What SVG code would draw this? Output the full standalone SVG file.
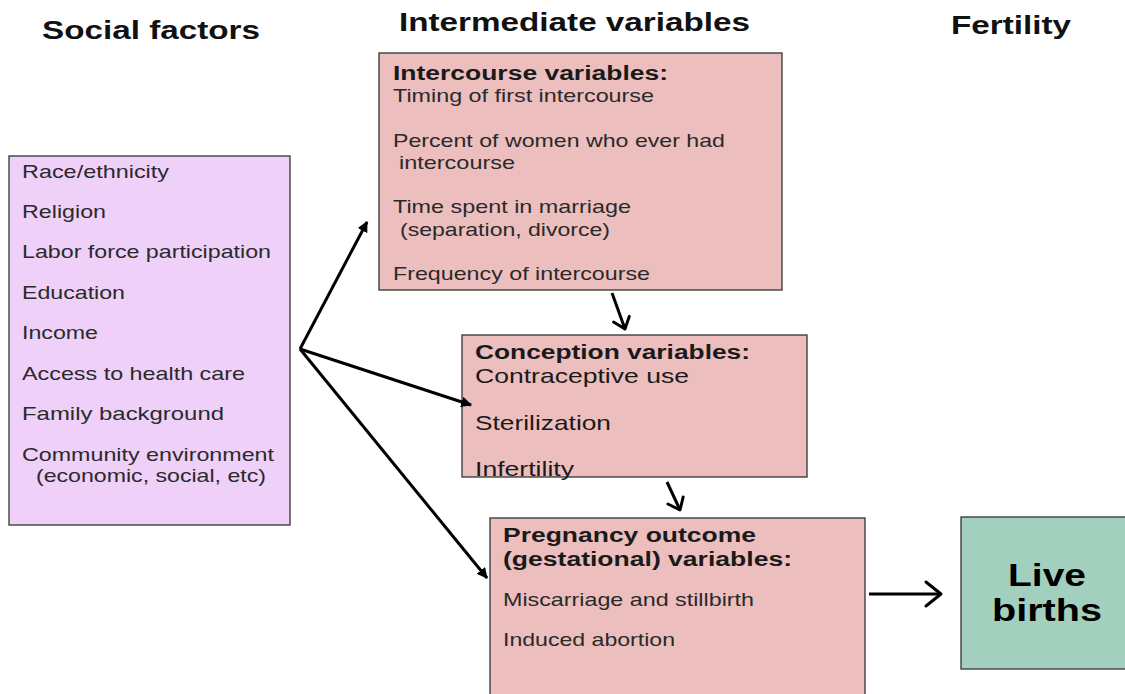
<svg xmlns="http://www.w3.org/2000/svg" width="1125" height="694" viewBox="0 0 1125 694">
<style>
.hdr{font-family:"Liberation Sans",Arial,sans-serif;font-weight:bold;font-size:26px;fill:#111}
.box{stroke:#333;stroke-width:1.3}
.t{font-family:"Liberation Sans",Arial,sans-serif;font-size:18.5px;fill:#2a2a2a}
.tb{font-family:"Liberation Sans",Arial,sans-serif;font-size:19.5px;font-weight:bold;fill:#1a1a1a}
.tl{font-family:"Liberation Sans",Arial,sans-serif;font-size:21px;fill:#1a1a1a}
.lb{font-family:"Liberation Sans",Arial,sans-serif;font-size:32px;font-weight:bold;fill:#000}
.conn{stroke:#000;stroke-width:3;fill:none}
</style>
<defs>
<marker id="tri" viewBox="0 0 10 10" refX="9" refY="5" markerWidth="3.6" markerHeight="3.6" orient="auto" markerUnits="strokeWidth">
<path d="M0,0 L10,5 L0,10 z" fill="#000"/>
</marker>
<marker id="vee" viewBox="0 0 10 10" refX="9" refY="5" markerWidth="10" markerHeight="10" orient="auto" markerUnits="strokeWidth">
<path d="M4,1 L9,5 L4,9" fill="none" stroke="#000" stroke-width="1" stroke-linecap="round" stroke-linejoin="round"/>
</marker>
<marker id="veeS" viewBox="0 0 10 10" refX="9" refY="5" markerWidth="7" markerHeight="7" orient="auto" markerUnits="strokeWidth">
<path d="M4,1 L9,5 L4,9" fill="none" stroke="#000" stroke-width="1.4" stroke-linecap="round" stroke-linejoin="round"/>
</marker>
</defs>
<rect width="1125" height="694" fill="#fff"/>
<g id="headers">
<text class="hdr" x="42" y="39" textLength="218" lengthAdjust="spacingAndGlyphs">Social factors</text>
<text class="hdr" x="399" y="31" textLength="351" lengthAdjust="spacingAndGlyphs">Intermediate variables</text>
<text class="hdr" x="951" y="34" textLength="120" lengthAdjust="spacingAndGlyphs">Fertility</text>
</g>
<g id="social">
<rect class="box" x="9" y="156" width="281" height="369" fill="#EFD0F9"/>
<text class="t" x="22" y="178" textLength="147" lengthAdjust="spacingAndGlyphs">Race/ethnicity</text>
<text class="t" x="22" y="218" textLength="84" lengthAdjust="spacingAndGlyphs">Religion</text>
<text class="t" x="22" y="258" textLength="249" lengthAdjust="spacingAndGlyphs">Labor force participation</text>
<text class="t" x="22" y="299" textLength="103" lengthAdjust="spacingAndGlyphs">Education</text>
<text class="t" x="22" y="339" textLength="76" lengthAdjust="spacingAndGlyphs">Income</text>
<text class="t" x="22" y="380" textLength="223" lengthAdjust="spacingAndGlyphs">Access to health care</text>
<text class="t" x="22" y="420" textLength="202" lengthAdjust="spacingAndGlyphs">Family  background</text>
<text class="t" x="22" y="461" textLength="252" lengthAdjust="spacingAndGlyphs">Community environment</text>
<text class="t" x="36" y="482" textLength="230" lengthAdjust="spacingAndGlyphs">(economic, social, etc)</text>
</g>
<g id="intercourse">
<rect class="box" x="379" y="53" width="403" height="237" fill="#ECBEBE"/>
<text class="tb" x="393" y="80" textLength="275" lengthAdjust="spacingAndGlyphs">Intercourse variables:</text>
<text class="t" x="393" y="102" textLength="261" lengthAdjust="spacingAndGlyphs">Timing of first intercourse</text>
<text class="t" x="393" y="147" textLength="332" lengthAdjust="spacingAndGlyphs">Percent of women who ever had</text>
<text class="t" x="399" y="169" textLength="116" lengthAdjust="spacingAndGlyphs">intercourse</text>
<text class="t" x="393" y="213" textLength="238" lengthAdjust="spacingAndGlyphs">Time spent in marriage</text>
<text class="t" x="400" y="236" textLength="210" lengthAdjust="spacingAndGlyphs">(separation, divorce)</text>
<text class="t" x="393" y="280" textLength="257" lengthAdjust="spacingAndGlyphs">Frequency of intercourse</text>
</g>
<g id="conception">
<rect class="box" x="462" y="335" width="345" height="142" fill="#ECBEBE"/>
<text class="tb" x="475" y="359" textLength="275" lengthAdjust="spacingAndGlyphs">Conception variables:</text>
<text class="tl" x="475" y="383" textLength="214" lengthAdjust="spacingAndGlyphs">Contraceptive use</text>
<text class="tl" x="475" y="430" textLength="136" lengthAdjust="spacingAndGlyphs">Sterilization</text>
<text class="tl" x="475" y="476" textLength="99" lengthAdjust="spacingAndGlyphs">Infertility</text>
</g>
<g id="pregnancy">
<rect class="box" x="490" y="518" width="375" height="190" fill="#ECBEBE"/>
<text class="tb" x="503" y="542" textLength="253" lengthAdjust="spacingAndGlyphs">Pregnancy outcome</text>
<text class="tb" x="503" y="566" textLength="289" lengthAdjust="spacingAndGlyphs">(gestational) variables:</text>
<text class="t" x="503" y="606" textLength="251" lengthAdjust="spacingAndGlyphs">Miscarriage and stillbirth</text>
<text class="t" x="503" y="646" textLength="172" lengthAdjust="spacingAndGlyphs">Induced abortion</text>
</g>
<g id="livebirths">
<rect class="box" x="961" y="517" width="170" height="152" fill="#A3CFBE"/>
<text class="lb" x="1008" y="586" textLength="78" lengthAdjust="spacingAndGlyphs">Live</text>
<text class="lb" x="992" y="621" textLength="110" lengthAdjust="spacingAndGlyphs">births</text>
</g>
<g id="connectors">
<line class="conn" x1="300" y1="349" x2="367" y2="222" marker-end="url(#tri)"/>
<line class="conn" x1="300" y1="349" x2="471" y2="405" marker-end="url(#tri)"/>
<line class="conn" x1="300" y1="349" x2="487" y2="578" marker-end="url(#tri)"/>
<line class="conn" x1="612" y1="293" x2="625" y2="329" marker-end="url(#veeS)"/>
<line class="conn" x1="667" y1="482" x2="680" y2="510" marker-end="url(#veeS)"/>
<line class="conn" x1="869" y1="594" x2="941" y2="594" marker-end="url(#vee)"/>
</g>
</svg>
